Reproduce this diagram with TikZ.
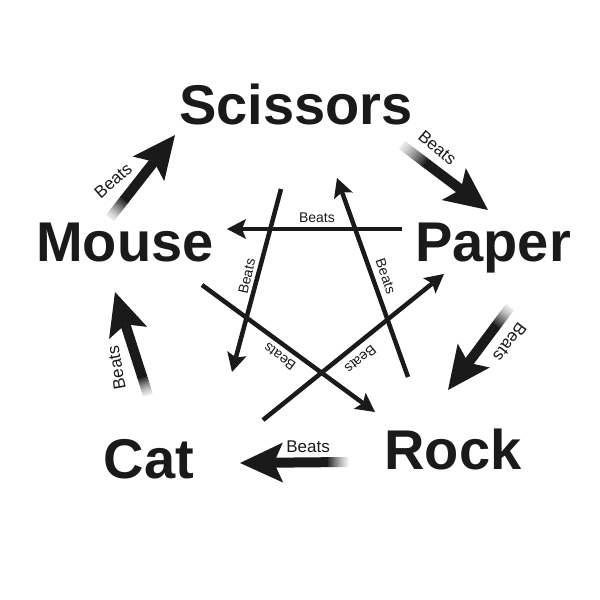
\documentclass[tikz,border=0pt]{standalone}
\usepackage{fontspec}
\setmainfont{Liberation Sans}
\usetikzlibrary{arrows.meta,calc}
\definecolor{ink}{HTML}{1A1A1A}
\tikzset{
  word/.style={font=\bfseries\fontsize{56}{60}\selectfont, text=ink, anchor=base, inner sep=0pt},
  outerarrow/.style={draw=ink, line width=10pt, -{Stealth[length=43pt,width=40pt,inset=9pt,line width=0pt]}},
  outershaft/.style={line width=10pt, line cap=butt},
  innerarrow/.style={draw=ink, line width=4.5pt, -{Stealth[length=19pt,width=20pt,inset=4pt,line width=0pt]}},
  bigbeats/.style={font=\fontsize{17}{18}\selectfont, text=ink, anchor=south, inner sep=0pt},
  smallbeats/.style={font=\fontsize{14}{15}\selectfont, text=ink, anchor=south, inner sep=0pt},
}
\newcommand\fadetail[3]{%
  \foreach \k in {0,...,11}{%
    \pgfmathsetmacro\pa{\k*#3/12}%
    \pgfmathsetmacro\pb{(\k+1)*#3/12+0.6}%
    \pgfmathtruncatemacro\sh{10+90*(\k/11)^1.2}%
    \draw[outershaft, draw=ink!\sh] ($(#1)!\pa pt!(#2)$) -- ($(#1)!\pb pt!(#2)$);
  }%
  \draw[outerarrow] ($(#1)!#3 pt!(#2)$) -- (#2);
}
\begin{document}
\begin{tikzpicture}[x=1pt,y=1pt]
\useasboundingbox (0,0) rectangle (600,600);
\fill[white] (0,0) rectangle (600,600);

% words
\node[word] (scissors) at (296,475) {Scissors};
\node[word] (paper) at (493,338) {Paper};
\node[word] (mouse) at (125,338) {Mouse};
\node[word] (rock) at (453,130) {Rock};
\node[word] (cat) at (149,121) {Cat};

% outer arrow ends
\coordinate (o1s) at (402,455); \coordinate (o1e) at (488,390);
\coordinate (o2s) at (510,293); \coordinate (o2e) at (448,210);
\coordinate (o3s) at (348,138); \coordinate (o3e) at (240,137);
\coordinate (o4s) at (148,205); \coordinate (o4e) at (115,308);
\coordinate (o5s) at (110,382); \coordinate (o5e) at (175,465);

% inner arrow ends
\coordinate (i1s) at (402,371); \coordinate (i1e) at (227,371);
\coordinate (i2s) at (281,411); \coordinate (i2e) at (232,228);
\coordinate (i3s) at (408,223); \coordinate (i3e) at (337,422);
\coordinate (i4s) at (202,315); \coordinate (i4e) at (375,188);
\coordinate (i5s) at (263,180); \coordinate (i5e) at (444,326);

% outer arrows
\fadetail{o1s}{o1e}{32}
\fadetail{o2s}{o2e}{25}
\fadetail{o3s}{o3e}{22}
\fadetail{o4s}{o4e}{20}
\fadetail{o5s}{o5e}{25}

\path (o1s) -- (o1e) node[bigbeats, pos=0.27, rotate=-40, outer sep=13pt] (b1) {Beats};
\path (o2s) -- (o2e) node[bigbeats, pos=0.27, rotate=-127, outer sep=15pt] (b2) {Beats};
\path (o3s) -- (o3e) node[bigbeats, pos=0.37, rotate=0, outer sep=10pt] (b3) {Beats};
\path (o4s) -- (o4e) node[bigbeats, pos=0.30, rotate=100, outer sep=16pt] (b4) {Beats};
\path (o5s) -- (o5e) node[bigbeats, pos=0.26, rotate=41, outer sep=15pt] (b5) {Beats};

% inner arrows
\draw[innerarrow] (i1s) -- (i1e) node[smallbeats, pos=0.486, rotate=0, outer sep=6pt] (c1) {Beats};
\draw[innerarrow] (i2s) -- (i2e) node[smallbeats, pos=0.49, rotate=77, outer sep=5.5pt] (c2) {Beats};
\draw[innerarrow] (i3s) -- (i3e) node[smallbeats, pos=0.485, rotate=-71, outer sep=8pt] (c3) {Beats};
\draw[innerarrow] (i4s) -- (i4e) node[smallbeats, pos=0.49, rotate=143.7, outer sep=7pt] (c4) {Beats};
\draw[innerarrow] (i5s) -- (i5e) node[smallbeats, pos=0.49, rotate=-140.7, outer sep=9pt] (c5) {Beats};
\end{tikzpicture}
\end{document}
